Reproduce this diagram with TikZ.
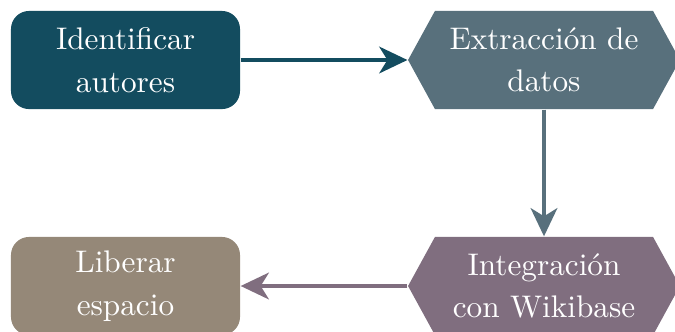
\documentclass[tikz,border=0pt]{standalone}
\usetikzlibrary{arrows.meta}
\definecolor{cteal}{HTML}{134C5F}
\definecolor{cslate}{HTML}{58707C}
\definecolor{cmauve}{HTML}{806E7F}
\definecolor{ctaupe}{HTML}{958878}
\tikzset{
  x=0.32pt, y=-0.32pt,
  base/.style={text=white, align=center, inner sep=0pt,
    minimum height=31.4pt, font=\fontsize{10pt}{13.6pt}\selectfont},
  roundbox/.style={base, rectangle, rounded corners=5.8pt, minimum width=73.3pt},
  hexbox/.style={base, rectangle, minimum width=87pt,
    path picture={\fill[#1]
      (path picture bounding box.west)
      -- ([xshift=8.6pt]path picture bounding box.north west)
      -- ([xshift=-8.6pt]path picture bounding box.north east)
      -- (path picture bounding box.east)
      -- ([xshift=-8.6pt]path picture bounding box.south east)
      -- ([xshift=8.6pt]path picture bounding box.south west) -- cycle;}},
  flow/.style={line width=1.4pt, -{Stealth[length=9pt,width=8.5pt,inset=2.6pt]}}
}
\begin{document}
\begin{tikzpicture}
\useasboundingbox (0,0) rectangle (675,331);
\node[roundbox, fill=cteal] (a) at (125.5,60) {Identificar\\autores};
\node[hexbox=cslate] (b) at (544,60) {Extracción de\\datos};
\node[hexbox=cmauve] (c) at (544,286) {Integración\\con Wikibase};
\node[roundbox, fill=ctaupe] (d) at (125.5,286) {Liberar\\espacio};
\draw[flow, cteal] (a.east) -- (b.west);
\draw[flow, cslate] (b.south) -- (c.north);
\draw[flow, cmauve] (c.west) -- (d.east);
\end{tikzpicture}
\end{document}
